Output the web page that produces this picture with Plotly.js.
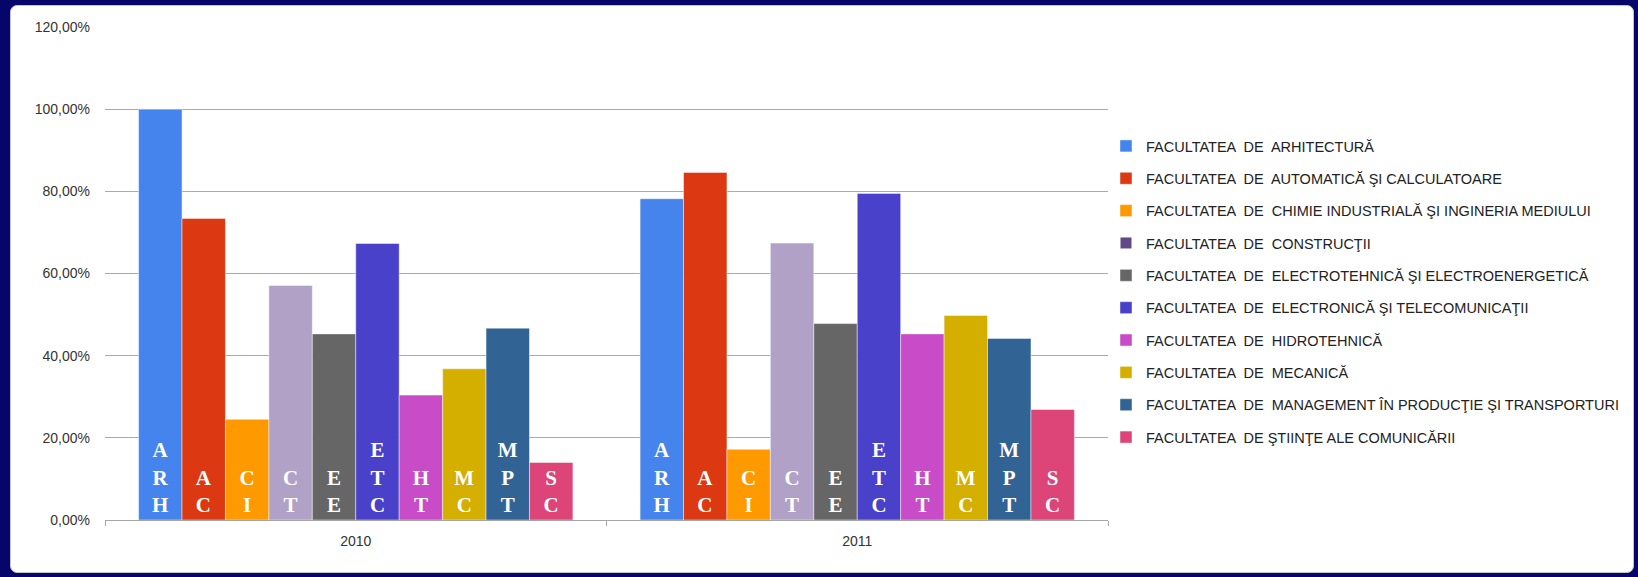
<!DOCTYPE html>
<html>
<head>
<meta charset="utf-8">
<script src="https://cdn.plot.ly/plotly-3.0.1.min.js"></script>
<style>
  html, body { margin: 0; padding: 0; width: 1638px; height: 577px; overflow: hidden; background: #06066a; }
  #card { position: absolute; left: 10px; top: 5px; width: 1624px; height: 568px; background: #ffffff;
          border: 1px solid #c4c4c4; border-radius: 7px; box-sizing: border-box; }
  #chart { position: absolute; left: 0; top: 0; width: 1638px; height: 577px; }
</style>
</head>
<body>
<div id="card"></div>
<div id="chart"></div>
<script>
// ---- data ----
const years = ['2010', '2011'];

const faculties = [
  'FACULTATEA  DE  ARHITECTURĂ',
  'FACULTATEA  DE  AUTOMATICĂ ŞI CALCULATOARE',
  'FACULTATEA  DE  CHIMIE INDUSTRIALĂ ŞI INGINERIA MEDIULUI',
  'FACULTATEA  DE  CONSTRUCŢII',
  'FACULTATEA  DE  ELECTROTEHNICĂ ŞI ELECTROENERGETICĂ',
  'FACULTATEA  DE  ELECTRONICĂ ŞI TELECOMUNICAŢII',
  'FACULTATEA  DE  HIDROTEHNICĂ',
  'FACULTATEA  DE  MECANICĂ',
  'FACULTATEA  DE  MANAGEMENT ÎN PRODUCŢIE ŞI TRANSPORTURI',
  'FACULTATEA  DE ŞTIINŢE ALE COMUNICĂRII'
];

const abbreviations = ['ARH', 'AC', 'CI', 'CT', 'EE', 'ETC', 'HT', 'MC', 'MPT', 'SC'];

const values2010 = [1.000, 0.734, 0.245, 0.571, 0.453, 0.673, 0.304, 0.368, 0.467, 0.140];
const values2011 = [0.782, 0.846, 0.172, 0.674, 0.478, 0.795, 0.453, 0.498, 0.442, 0.269];

const barColors = ['#4584ec', '#dc3912', '#ff9900', '#b2a1c7', '#666666',
                   '#4941c9', '#c84bc8', '#d4af00', '#316395', '#dd4477'];
const legendColors = ['#4584ec', '#dc3912', '#ff9900', '#5e4a87', '#666666',
                      '#4941c9', '#c84bc8', '#d4af00', '#316395', '#dd4477'];

// ---- traces ----
const traces = [];
faculties.forEach((name, i) => {
  const sameLegend = barColors[i] === legendColors[i];
  if (!sameLegend) {
    // legend proxy carrying the legend swatch colour
    traces.push({
      type: 'scatter', mode: 'markers', x: years, y: [null, null],
      name: name, legendgroup: 'g' + i, showlegend: true,
      marker: { symbol: 'square', size: 11, color: legendColors[i] },
      hoverinfo: 'skip'
    });
  }
  traces.push({
    type: 'bar',
    x: years,
    y: [values2010[i], values2011[i]],
    name: name,
    legendgroup: 'g' + i,
    showlegend: sameLegend,
    marker: { color: barColors[i], line: { color: 'rgba(255,255,255,0.45)', width: 1 } },
    text: years.map(() => abbreviations[i].split('').join('<br>')),
    textposition: 'inside',
    insidetextanchor: 'start',
    textangle: 0,
    constraintext: 'none',
    textfont: { family: 'Liberation Serif, Times New Roman, serif', size: 21, color: '#ffffff', weight: 'bold' },
    hoverinfo: 'none'
  });
});

const layout = {
  width: 1638, height: 577,
  paper_bgcolor: 'rgba(0,0,0,0)',
  plot_bgcolor: 'rgba(0,0,0,0)',
  margin: { l: 105, r: 530, t: 27, b: 57, autoexpand: false },
  separators: ',.',
  barmode: 'group',
  bargap: 0.134,
  bargroupgap: 0,
  showlegend: true,
  font: { family: 'Liberation Sans, Arial, sans-serif', color: '#404040' },
  xaxis: {
    type: 'category',
    showgrid: false,
    showline: true, linecolor: '#a6a6a6', linewidth: 1,
    ticks: 'outside', tickson: 'boundaries', ticklen: 5, tickcolor: '#a6a6a6',
    tickfont: { size: 14, color: '#333333' },
    ticklabelstandoff: 8,
    fixedrange: true
  },
  yaxis: {
    range: [0, 1.2], dtick: 0.2, tick0: 0,
    tickformat: '.2%',
    showgrid: true, gridcolor: '#aaaaaa', gridwidth: 1,
    zeroline: false, showline: false,
    ticks: '', ticklabelstandoff: 14,
    tickfont: { size: 14, color: '#333333' },
    fixedrange: true
  },
  legend: {
    x: 0.998, xanchor: 'left',
    y: 0.4635, yanchor: 'middle',
    traceorder: 'grouped',
    tracegroupgap: 10.5,
    font: { size: 14.5, color: '#222222', family: 'Liberation Sans, Arial, sans-serif' },
    bgcolor: 'rgba(0,0,0,0)', borderwidth: 0
  }
};

Plotly.newPlot('chart', traces, layout, { displayModeBar: false, staticPlot: true });
</script>
</body>
</html>
